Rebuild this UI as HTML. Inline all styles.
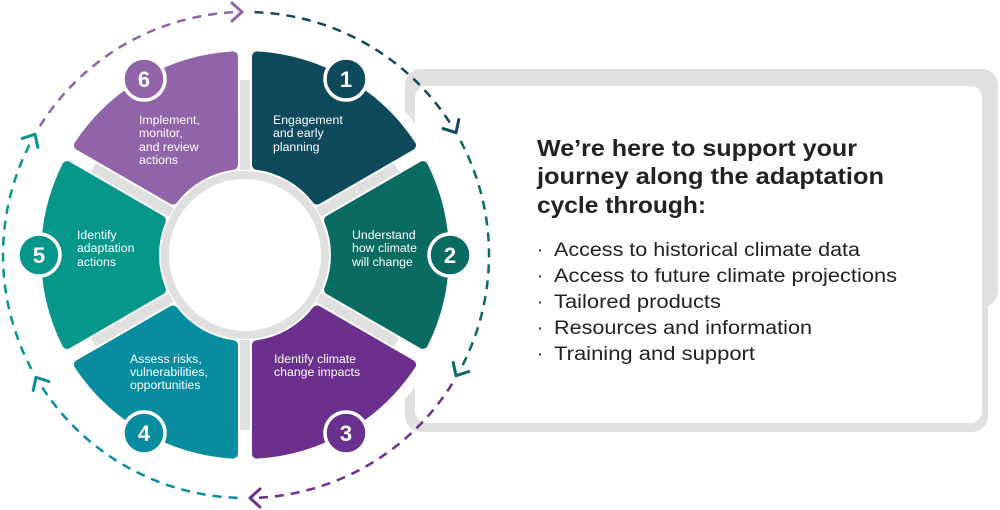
<!DOCTYPE html>
<html><head><meta charset="utf-8"><style>
html,body{margin:0;padding:0;background:#fff;}
body{width:1000px;height:510px;overflow:hidden;position:relative;font-family:"Liberation Sans",sans-serif;}
</style></head><body>
<svg width="1000" height="510" viewBox="0 0 1000 510" xmlns="http://www.w3.org/2000/svg" style="position:absolute;left:0;top:0">
<defs>
<path id="seg" d="M84.1,-34.7 L178,-88.9 A199 199 0 0 1 178,88.9 L84.1,34.7 A91 91 0 0 0 84.1,-34.7 Z"/>
<path id="chev" d="M-8,-9 L2,0 L-8,9" fill="none" stroke-width="3" stroke-linecap="round" stroke-linejoin="round"/>
</defs>
<!-- panel -->
<rect x="405" y="69" width="593" height="238" rx="16" fill="#e0e0e0"/>
<rect x="405" y="69" width="583" height="363" rx="16" fill="#e0e0e0"/>
<rect x="415" y="86" width="567" height="337" rx="12" fill="#fff"/>
<circle cx="245" cy="255" r="215" fill="#fff"/>
<g stroke="#e0e0e0" stroke-width="10" transform="translate(245,255)">
<line x1="0" y1="-85" x2="0" y2="-175"/>
<line x1="0" y1="85" x2="0" y2="175"/>
<line x1="73.6" y1="-42.5" x2="151.6" y2="-87.5"/>
<line x1="73.6" y1="42.5" x2="151.6" y2="87.5"/>
<line x1="-73.6" y1="-42.5" x2="-151.6" y2="-87.5"/>
<line x1="-73.6" y1="42.5" x2="-151.6" y2="87.5"/>
</g>
<circle cx="245" cy="255" r="80" fill="#fff" stroke="#e0e0e0" stroke-width="8"/>
<g transform="translate(245,255)" stroke-width="10" stroke-linejoin="round">
<use href="#seg" transform="rotate(-60)" fill="#0e4a5b" stroke="#0e4a5b"/>
<use href="#seg" transform="rotate(0)" fill="#0a6b62" stroke="#0a6b62"/>
<use href="#seg" transform="rotate(60)" fill="#6b2f8d" stroke="#6b2f8d"/>
<use href="#seg" transform="rotate(120)" fill="#078ca0" stroke="#078ca0"/>
<use href="#seg" transform="rotate(180)" fill="#07978a" stroke="#07978a"/>
<use href="#seg" transform="rotate(240)" fill="#9164a9" stroke="#9164a9"/>
</g>
<g fill="none" stroke-width="2.5" stroke-dasharray="9 7">
<path d="M254.5,12.1 A243,243 0 0 1 452.1,126.2" stroke="#0e4a5b"/>
<path d="M460.6,141 A243,243 0 0 1 460.6,369" stroke="#0a6b62"/>
<path d="M452.1,383.8 A243,243 0 0 1 254.5,497.9" stroke="#6b2f8d"/>
<path d="M237.5,497.9 A243,243 0 0 1 39.9,383.8" stroke="#078ca0"/>
<path d="M31.4,369 A243,243 0 0 1 31.4,141" stroke="#07978a"/>
<path d="M39.9,126.2 A243,243 0 0 1 237.5,12.1" stroke="#9164a9"/>
</g>
<use href="#chev" transform="translate(240,12) rotate(0)" stroke="#9164a9"/>
<use href="#chev" transform="translate(455,131) rotate(60)" stroke="#0e4a5b"/>
<use href="#chev" transform="translate(457,374) rotate(120)" stroke="#0a6b62"/>
<use href="#chev" transform="translate(252,498) rotate(180)" stroke="#6b2f8d"/>
<use href="#chev" transform="translate(37,379) rotate(240)" stroke="#078ca0"/>
<use href="#chev" transform="translate(34,136) rotate(300)" stroke="#07978a"/>
<g stroke="#fff" stroke-width="3.5">
<circle cx="346" cy="79" r="21" fill="#0e4a5b"/>
<circle cx="450" cy="255" r="21" fill="#0a6b62"/>
<circle cx="346" cy="433" r="21" fill="#6b2f8d"/>
<circle cx="144" cy="433" r="21" fill="#078ca0"/>
<circle cx="39" cy="255" r="21" fill="#07978a"/>
<circle cx="144" cy="79" r="21" fill="#9164a9"/>
</g>
<g fill="#fff" font-family="Liberation Sans, sans-serif" font-weight="bold" font-size="22" text-anchor="middle">
<text x="346" y="87">1</text>
<text x="450" y="263">2</text>
<text x="346" y="441">3</text>
<text x="144" y="441">4</text>
<text x="39" y="263">5</text>
<text x="144" y="87">6</text>
</g>
<g fill="#fff" font-family="Liberation Sans, sans-serif" font-size="12.3">
<text x="139" y="124">Implement,</text>
<text x="139" y="137">monitor,</text>
<text x="139" y="151">and review</text>
<text x="139" y="164">actions</text>
<text x="273" y="124">Engagement</text>
<text x="273" y="137">and early</text>
<text x="273" y="151">planning</text>
<text x="352" y="239">Understand</text>
<text x="352" y="252">how climate</text>
<text x="352" y="266">will change</text>
<text x="77" y="239">Identify</text>
<text x="77" y="252">adaptation</text>
<text x="77" y="266">actions</text>
<text x="130" y="363">Assess risks,</text>
<text x="130" y="376">vulnerabilities,</text>
<text x="130" y="389">opportunities</text>
<text x="274" y="363">Identify climate</text>
<text x="274" y="376">change impacts</text>
</g>
<g fill="#222" font-family="Liberation Sans, sans-serif" font-weight="bold" font-size="23">
<text x="537" y="156" textLength="320" lengthAdjust="spacingAndGlyphs">We’re here to support your</text>
<text x="537" y="184" textLength="347" lengthAdjust="spacingAndGlyphs">journey along the adaptation</text>
<text x="537" y="213" textLength="169" lengthAdjust="spacingAndGlyphs">cycle through:</text>
</g>
<g fill="#222" font-family="Liberation Sans, sans-serif" font-size="19">
<text x="537" y="256">·</text><text x="554" y="256" textLength="306" lengthAdjust="spacingAndGlyphs">Access to historical climate data</text>
<text x="537" y="282">·</text><text x="554" y="282" textLength="343" lengthAdjust="spacingAndGlyphs">Access to future climate projections</text>
<text x="537" y="308">·</text><text x="554" y="308" textLength="167" lengthAdjust="spacingAndGlyphs">Tailored products</text>
<text x="537" y="334">·</text><text x="554" y="334" textLength="258" lengthAdjust="spacingAndGlyphs">Resources and information</text>
<text x="537" y="360">·</text><text x="554" y="360" textLength="201" lengthAdjust="spacingAndGlyphs">Training and support</text>
</g>
</svg>
</body></html>
